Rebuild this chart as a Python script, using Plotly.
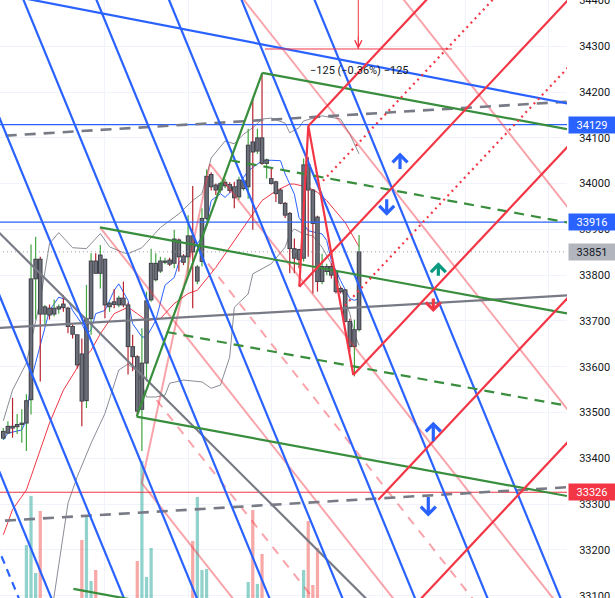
import plotly.graph_objects as go

# ---------------- candles (bar index 0..77) ----------------
OPEN = [33444,33455,33470,33469,33474,33477,33528,33792,33835,33715,
        33728,33715,33726,33737,33728,33688,33670,33628,33526,33705,
        33831,33804,33835,33731,33742,33735,33750,33735,33644,33622,
        33507,33608,33746,33790,33809,33828,33833,33826,33877,33842,
        33840,33886,33787,33830,33924,34020,33997,33986,33995,33998,
        33993,33971,33989,33993,34091,34071,34100,34044,34011,34004,
        33986,33957,33935,33858,33856,33837,34041,33986,33927,33786,
        33808,33819,33808,33771,33768,33699,33644,33681]
HIGH = [33466,33481,33532,33497,33507,33540,33867,33884,33840,33735,
        33736,33747,33736,33757,33731,33692,33670,33662,33779,33848,
        33848,33866,33835,33742,33770,33755,33786,33740,33670,33625,
        33684,33764,33858,33848,33840,33838,33838,33899,33880,33846,
        33931,33995,33822,33946,34031,34025,34000,34004,34010,34003,
        34004,34015,34010,34120,34189,34120,34237,34055,34033,34006,
        33990,33960,33938,33880,33858,34055,34058,33988,33930,33847,
        33825,33826,33810,33775,33770,33705,33703,33888]
LOW = [33441,33453,33445,33453,33434,33416,33496,33703,33568,33692,
       33703,33710,33716,33720,33673,33662,33596,33470,33510,33670,
       33804,33771,33706,33720,33728,33730,33730,33583,33590,33496,
       33416,33568,33742,33786,33805,33824,33820,33815,33808,33822,
       33801,33728,33780,33819,33920,33985,33975,33980,33990,33980,
       33946,33965,33985,33967,33899,34065,34041,34011,33998,33960,
       33955,33925,33804,33804,33815,33830,33840,33760,33764,33780,
       33800,33793,33760,33760,33697,33633,33579,33677]
CLOSE = [33459,33470,33466,33474,33477,33526,33792,33835,33715,33731,
         33713,33728,33731,33729,33688,33671,33604,33525,33705,33831,
         33804,33844,33735,33739,33736,33750,33735,33644,33622,33503,
         33608,33744,33826,33826,33831,33831,33824,33879,33840,33828,
         33886,33851,33818,33924,34016,33993,33986,34000,34003,33985,
         33969,34008,34006,34084,34069,34100,34044,34052,34000,33978,
         33957,33931,33858,33837,33834,34041,33986,33913,33786,33819,
         33819,33800,33764,33764,33699,33644,33681,33851]
VOLUME = [22,18,30,20,25,95,144,67,129,35,
          22,20,18,24,30,26,36,100,124,59,
          70,38,34,20,22,18,25,38,30,79,
          179,63,92,36,25,18,20,34,30,22,
          38,99,143,70,71,36,24,20,18,22,
          30,28,24,58,130,56,86,36,30,32,
          26,30,38,34,30,70,119,55,92,38,
          26,28,34,24,36,38,40,41]

# ---------------- indicators (bar index, value) ----------------
BB_UPPER_I = [0,2,5,8,10,12,15,18,21,23,26,27,30,34,38,41,43,45,48,50,52,54,56,58,61,62,64,65,69,73,75,77]
BB_UPPER = [33482,33549,33608,33745,33869,33893,33860,33858,33891,33862,
            33849,33847,33860,33904,33934,33963,33978,34056,34093,34087,
            34108,34122,34141,34143,34132,34111,34122,34137,34148,34141,34108,34065]
BB_LOWER_I = [0,8,11,14,16,19,22,25,27,29,31,33,35,36,39,43,45,47,49,50,53,54,58,61,62,63,65,67,69,71,73,75,76,77]
BB_LOWER = [32874,32961,33099,33302,33360,33433,33498,33593,33606,33589,
            33534,33534,33538,33564,33571,33567,33553,33560,33621,33730,
            33759,33803,33825,33861,33890,33901,33890,33886,33861,33825,
            33774,33716,33672,33647]
MA_FAST_I = [0,1,4,5,6,9,10,12,14,15,17,18,19,20,22,24,25,27,28,30,31,33,35,37,38,41,43,44,45,47,
             48,51,53,56,58,60,61,63,64,66,69,70,71,73,75,76,77]
MA_FAST = [33440,33455,33462,33484,33571,33687,33723,33752,33745,33723,
           33694,33672,33680,33716,33723,33767,33781,33745,33694,33665,
           33665,33701,33778,33795,33828,33854,33884,33913,33963,33978,
           33970,33999,34028,34050,34051,34050,34021,33977,33926,33897,
           33890,33876,33832,33788,33749,33745,33749]
MA_SLOW_I = [0,2,5,7,10,13,17,19,21,24,27,29,31,34,37,40,42,46,50,53,56,59,62,63,66,68,70,74,76,77]
MA_SLOW = [33233,33288,33331,33389,33477,33549,33614,33636,33672,33716,
           33730,33716,33701,33705,33738,33760,33767,33817,33876,33919,
           33963,33984,33999,33999,33992,33981,33963,33915,33880,33862]

# ---------------- axes ----------------
PRICE_TICKS = [33100,33200,33300,33400,33500,33600,33700,33800,33900,34000,34100,34200,34300,34400]
TIME_GRID_I = [22, 40, 58, 82, 100, 118]

# ---------------- drawings (anchor points: bar index, price) ----------------
BLUE_FAN_I1 = [-42.7, -27.0, -11.2, 4.5, 20.3, 36.0, 51.7, 67.5]
BLUE_FAN_P1 = [34398, 34398, 34398, 34398, 34398, 34398, 34398, 34398]
BLUE_FAN_I2 = [10.35, 26.05, 41.85, 57.55, 73.35, 89.05, 104.75, 120.55]
BLUE_FAN_P2 = [33096, 33096, 33096, 33096, 33096, 33096, 33096, 33096]
BLUE_SHALLOW = [7.94, 34398, 122.0, 34175]
BLUE_DASHED = [-0.7, 33194, 3.3, 33096]
GRAY_DASH_TOP = [-0.71, 34104, 122.2, 34179]
GRAY_DASH_BOTTOM = [0.37, 33264, 122.2, 33337]
GRAY_FLAT = [-0.71, 33685, 122.3, 33756]
GRAY_DESC = [-0.71, 33891, 78.3, 33096]

PITCH_C_TO_B = [28.87, 33491, 56.06, 34242]
GREEN_RAY_I1 = [56.06, 20.93, 28.87, 15.17]
GREEN_RAY_P1 = [34242, 33904.5, 33491, 33115]
GREEN_RAY_I2 = [122, 122, 122, 122]
GREEN_RAY_P2 = [34119, 33716.4, 33317.7, 32916]
GREEN_DASH_I1 = [49.07, 35.37]
GREEN_DASH_P1 = [34051, 33676]
GREEN_DASH_I2 = [122, 122]
GREEN_DASH_P2 = [33915.3, 33514.8]

RED_TRI_I = [64.07, 66.02, 75.76]
RED_TRI_P = [33775, 34126, 33582]
RED_RAY_I1 = [66.02, 64.07, 75.76, 81.17, 88.0]
RED_RAY_P1 = [34126, 33775, 33582, 33309.5, 33067.7]
RED_RAY_I2 = [95, 123, 123, 123, 123]
RED_RAY_P2 = [34438, 34409, 34090, 33759.6, 33444.3]
RED_DOT_I1 = [69.2, 73.96]
RED_DOT_P1 = [34006, 33734]
RED_DOT_I2 = [107, 123]
RED_DOT_P2 = [34413, 34262]

PINK_I1 = [50.0, 85.0, 20.93, 29.96, 44.74, 29.96]
PINK_P1 = [34427.6, 34423, 33904.5, 33346, 34042.5, 33346]
PINK_I2 = [123, 123, 85, 55, 125, 44.74]
PINK_P2 = [33495.4, 33937.6, 33086.3, 33026, 33017.6, 34042.5]
PINK_DASH_I1 = [44.31, 33.2]
PINK_DASH_P1 = [33825.5, 33527]
PINK_DASH_I2 = [110, 70]
PINK_DASH_P2 = [32986, 33057]

MEASURE_H = [56.64, 34294, 97.12, 34294]
MEASURE_V = [76.84, 34440, 76.84, 34294]
MEASURE_TEXT = "\u2212125 (\u22120.36%) \u2212125"
MEASURE_TEXT_AT = [77.0, 34246]

HLINE_PRICES = [34129, 33916, 33326]
HLINE_COLORS = ['#2962ff', '#2962ff', '#f23645']
LAST_PRICE = 33851

ARROW_I = [85.87, 82.99, 94.16, 93.07, 93.07, 91.99]
ARROW_P = [34067.7, 33930, 33828, 33719.4, 33480, 33273]
ARROW_UP = [True, False, True, False, True, False]
ARROW_COLOR = ['#2962ff', '#2962ff', '#089981', '#f23645', '#2962ff', '#2962ff']
ARROW_LEN = [18, 18, 15, 15, 21, 21]

LABEL_PRICES = [34129, 33916, 33851, 33326]
LABEL_BG = ['#2962ff', '#2962ff', '#b2b5be', '#f23645']
LABEL_FG = ['#ffffff', '#ffffff', '#131722', '#ffffff']

# ---------------- build ----------------
FONT = 'Roboto'
fig = go.Figure()
N = len(OPEN)
idx = list(range(N))
is_up = [CLOSE[i] >= OPEN[i] for i in idx]

# volume (primary y, hidden, drawn first)
fig.add_trace(go.Bar(
    x=idx, y=VOLUME, width=0.7,
    marker=dict(color=['rgba(38,166,154,0.5)' if u else 'rgba(239,83,80,0.5)' for u in is_up], line=dict(width=0)),
    yaxis='y', hoverinfo='skip'))


def add_path(xs, ys, color, width, dash='solid'):
    fig.add_trace(go.Scatter(x=xs, y=ys, mode='lines', yaxis='y2', hoverinfo='skip',
                             line=dict(color=color, width=width, dash=dash)))


def seg_pts(i1, p1, i2, p2, mode):
    if mode == 'seg':
        return [i1, i2], [p1, p2]
    s = (p2 - p1) / (i2 - i1)
    hi, lo = 140.0, -20.0
    if mode == 'ray':
        return [i1, hi], [p1, p1 + s * (hi - i1)]
    return [lo, hi], [p1 + s * (lo - i1), p1 + s * (hi - i1)]


def multi(lines, mode):
    xs, ys = [], []
    for (i1, p1, i2, p2) in lines:
        a, b = seg_pts(i1, p1, i2, p2, mode)
        xs += a + [None]
        ys += b + [None]
    return xs, ys

# indicators
add_path(BB_UPPER_I, BB_UPPER, '#8a8d96', 1)
add_path(BB_LOWER_I, BB_LOWER, '#8a8d96', 1)
add_path(MA_SLOW_I, MA_SLOW, '#f23645', 1)
add_path(MA_FAST_I, MA_FAST, '#2962ff', 1)

# wicks
for want, col in ((True, '#3fa63f'), (False, '#b8232f')):
    xs, ys = [], []
    for i in idx:
        if is_up[i] == want:
            xs += [i, i, None]
            ys += [LOW[i], HIGH[i], None]
    add_path(xs, ys, col, 1.2)

# bodies
bx, by = [], []
for i in idx:
    lo_, hi_ = min(OPEN[i], CLOSE[i]), max(OPEN[i], CLOSE[i])
    if hi_ - lo_ < 3:
        hi_ = lo_ + 3
    bx += [i, i, None]
    by += [lo_ - 1, hi_ + 1, None]
add_path(bx, by, '#3f4149', 4.6)
bx2, by2 = [], []
for i in idx:
    lo_, hi_ = min(OPEN[i], CLOSE[i]), max(OPEN[i], CLOSE[i])
    if hi_ - lo_ < 3:
        hi_ = lo_ + 3
    bx2 += [i, i, None]
    by2 += [lo_ + 1, hi_ - 1, None]
add_path(bx2, by2, '#6c6f79', 2.6)

# horizontal lines
for pr, col in zip(HLINE_PRICES, HLINE_COLORS):
    add_path([-20, 140], [pr, pr], col, 1.2)
add_path([-20, 140], [LAST_PRICE, LAST_PRICE], '#9598a1', 1, '1px,3px')

# pink family
xs, ys = multi(list(zip(PINK_I1, PINK_P1, PINK_I2, PINK_P2)), 'seg')
add_path(xs, ys, 'rgba(242,54,69,0.45)', 2)
xs, ys = multi(list(zip(PINK_DASH_I1, PINK_DASH_P1, PINK_DASH_I2, PINK_DASH_P2)), 'seg')
add_path(xs, ys, 'rgba(242,54,69,0.45)', 2, '9px,8px')

# gray lines
xs, ys = multi([GRAY_FLAT, GRAY_DESC], 'ext')
add_path(xs, ys, '#787b86', 2.2)
xs, ys = multi([GRAY_DASH_TOP], 'ext')
add_path(xs, ys, '#787b86', 2.6, '11px,8px')
xs, ys = multi([GRAY_DASH_BOTTOM], 'ray')
add_path(xs, ys, '#787b86', 2.6, '11px,8px')

# blue lines
xs, ys = multi(list(zip(BLUE_FAN_I1, BLUE_FAN_P1, BLUE_FAN_I2, BLUE_FAN_P2)) + [BLUE_SHALLOW], 'ext')
add_path(xs, ys, '#2962ff', 2.2)
xs, ys = multi([BLUE_DASHED], 'ext')
add_path(xs, ys, '#2962ff', 2.2, '8px,6px')

# green pitchfork
xs, ys = multi([PITCH_C_TO_B] + list(zip(GREEN_RAY_I1, GREEN_RAY_P1, GREEN_RAY_I2, GREEN_RAY_P2)), 'seg')
add_path(xs, ys, '#388e3c', 2.2)
xs, ys = multi(list(zip(GREEN_DASH_I1, GREEN_DASH_P1, GREEN_DASH_I2, GREEN_DASH_P2)), 'seg')
add_path(xs, ys, '#388e3c', 2.2, '10px,7px')

# red structure
add_path(RED_TRI_I, RED_TRI_P, '#f23645', 2.2)
xs, ys = multi(list(zip(RED_RAY_I1, RED_RAY_P1, RED_RAY_I2, RED_RAY_P2)), 'seg')
add_path(xs, ys, '#f23645', 2.2)
xs, ys = multi(list(zip(RED_DOT_I1, RED_DOT_P1, RED_DOT_I2, RED_DOT_P2)), 'seg')
add_path(xs, ys, '#f23645', 2.2, '2px,4px')

# measure tool
xs, ys = multi([MEASURE_H, MEASURE_V], 'seg')
add_path(xs, ys, '#f23645', 1)
fig.add_annotation(x=MEASURE_V[2], y=MEASURE_V[3], xref='x', yref='y2', text='', showarrow=True,
                   ax=0, ay=-14, arrowhead=5, arrowwidth=1, arrowsize=1.4, arrowcolor='#f23645')
fig.add_annotation(x=MEASURE_TEXT_AT[0], y=MEASURE_TEXT_AT[1], xref='x', yref='y2', text=MEASURE_TEXT,
                   showarrow=False, font=dict(family=FONT, size=11, color='#131722'))

# arrow marks
for i_, p_, up_, col, ln in zip(ARROW_I, ARROW_P, ARROW_UP, ARROW_COLOR, ARROW_LEN):
    fig.add_annotation(x=i_, y=p_, xref='x', yref='y2', text='', showarrow=True,
                       ax=0, ay=(ln if up_ else -ln), arrowhead=4, arrowwidth=3.2,
                       arrowsize=0.9, arrowcolor=col)

# price labels on the scale
for pr, bg, fg in zip(LABEL_PRICES, LABEL_BG, LABEL_FG):
    fig.add_annotation(x=1, xref='paper', xanchor='left', xshift=1, y=pr, yref='y2', yanchor='middle',
                       text=str(pr), showarrow=False, bgcolor=bg, borderpad=1, width=44, height=14,
                       align='center', font=dict(family=FONT, size=11, color=fg))

fig.update_layout(
    width=615, height=598, margin=dict(l=0, r=48, t=0, b=0, autoexpand=False),
    paper_bgcolor='white', plot_bgcolor='white', showlegend=False,
    xaxis=dict(range=[-0.714, 122.01], showticklabels=False, tickvals=TIME_GRID_I, automargin=False,
               showgrid=True, gridcolor='#f0f3fa', zeroline=False, showline=False, ticks=''),
    yaxis=dict(range=[42, 640], visible=False, showgrid=False, automargin=False),
    yaxis2=dict(range=[33095, 34401], overlaying='y', side='right', tickvals=PRICE_TICKS,
                tickformat='d', ticklabeloverflow='allow', automargin=False,
                showgrid=True, gridcolor='#f0f3fa', zeroline=False, showline=False,
                ticks='outside', ticklen=9, tickcolor='rgba(0,0,0,0)',
                tickfont=dict(family=FONT, size=11, color='#131722')),
)

fig.write_html("out.html", config={'displayModeBar': False},
               post_script="document.body.style.margin='0';document.body.style.overflow='hidden';")
